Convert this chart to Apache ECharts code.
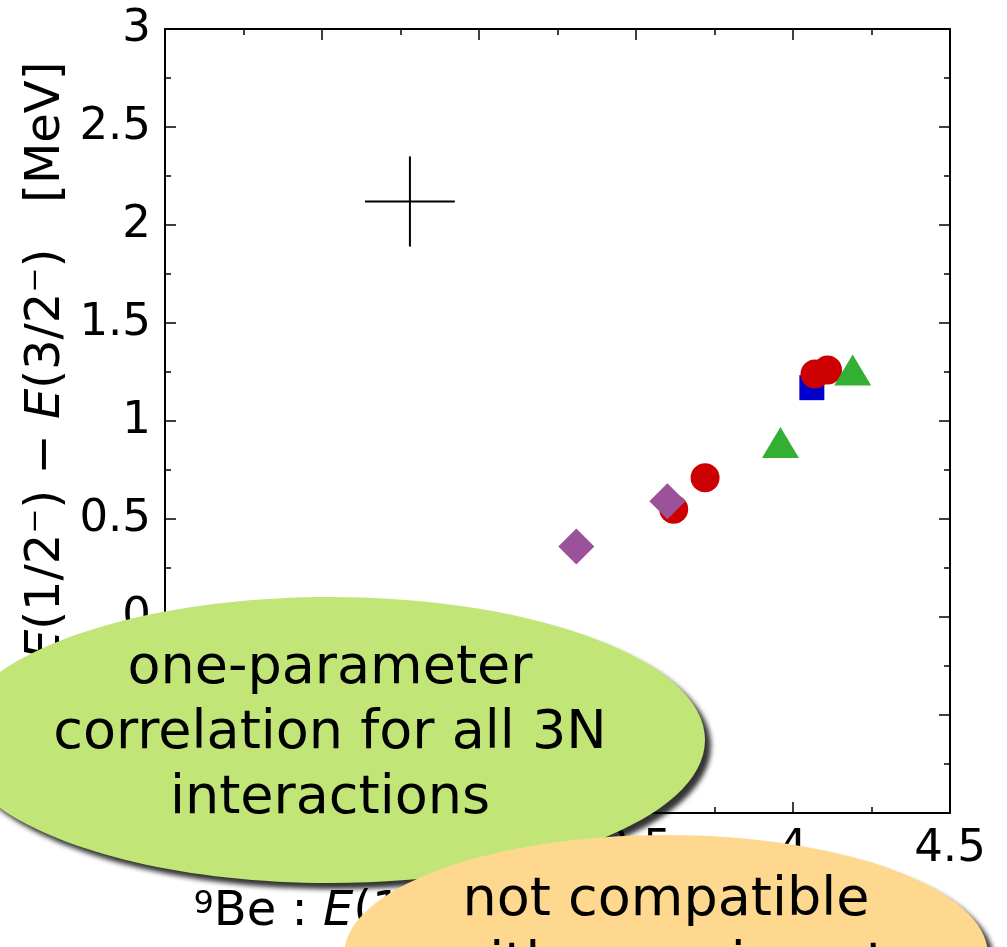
<!DOCTYPE html>
<html>
<head>
<meta charset="utf-8">
<script src="https://cdn.jsdelivr.net/npm/echarts@6/dist/echarts.min.js"></script>
<style>
    html, body { margin: 0; padding: 0; background: #fff; }
    #chart { width: 1007px; height: 947px; }
</style>
</head>
<body>
<div id="chart"></div>
<script>
// 刻度标签
const xTicks = [2, 2.5, 3, 3.5, 4, 4.5];
const yTicks = [-1, -0.5, 0, 0.5, 1, 1.5, 2, 2.5, 3];

// 各种 3N 相互作用的计算结果 [x, y]
const redCircles = [[3.62, 0.55], [3.72, 0.71], [4.07, 1.24], [4.11, 1.26]];
const blueSquares = [[4.06, 1.17]];
const purpleDiamonds = [[3.31, 0.36], [3.60, 0.59]];
const greenTriangles = [[3.96, 0.89], [4.19, 1.26]];
// 实验值 [x, y, x误差, y误差]
const experiment = [[2.78, 2.12, 0.143, 0.23]];

const FONT = '"DejaVu Sans", sans-serif';

(function () {
    const chart = echarts.init(document.getElementById('chart'));

    // 坐标轴公共样式（四边框 + 向内刻度）
    function frameAxis(extra) {
        return Object.assign({
            type: 'value',
            axisLine: { show: true, onZero: false, lineStyle: { color: '#000', width: 2 } },
            axisTick: { show: true, inside: true, length: 11, lineStyle: { color: '#000', width: 1.5 } },
            minorTick: { show: true, splitNumber: 2, length: 6, lineStyle: { color: '#000', width: 1.5 } },
            splitLine: { show: false },
            minorSplitLine: { show: false }
        }, extra);
    }

    const labelStyle = { fontSize: 45, color: '#000', fontFamily: FONT, margin: 14 };
    // 坐标轴名称：斜体 E，上标用小字号顶对齐
    const nameStyle = {
        fontSize: 48, color: '#000', fontFamily: FONT,
        rich: {
            i: { fontSize: 48, color: '#000', fontFamily: FONT, fontStyle: 'italic' },
            sup: { fontSize: 32, color: '#000', fontFamily: FONT, verticalAlign: 'top' }
        }
    };

    const option = {
        animation: false,
        backgroundColor: '#fff',
        grid: { left: 165, right: 57, top: 29, bottom: 134, outerBoundsMode: 'none' },
        xAxis: [
            frameAxis({
                min: xTicks[0], max: xTicks[xTicks.length - 1], interval: 0.5, position: 'bottom',
                axisLabel: Object.assign({ formatter: v => xTicks.includes(v) ? String(v) : '' }, labelStyle),
                name: '{sup|9}Be : {i|E}(1/2⁻) − {i|E}(3/2⁻)   [MeV]',
                nameLocation: 'middle', nameGap: 76, nameMoveOverlap: false, nameTextStyle: nameStyle
            }),
            frameAxis({
                min: xTicks[0], max: xTicks[xTicks.length - 1], interval: 0.5, position: 'top',
                axisLabel: { show: false }
            })
        ],
        yAxis: [
            frameAxis({
                min: yTicks[0], max: yTicks[yTicks.length - 1], interval: 0.5, position: 'left',
                axisLabel: Object.assign({ formatter: v => yTicks.includes(v) ? String(v) : '' }, labelStyle),
                name: '{sup|11}B : {i|E}(1/2⁻) − {i|E}(3/2⁻)   [MeV]',
                nameLocation: 'middle', nameRotate: 90, nameGap: 94, nameMoveOverlap: false, nameTextStyle: nameStyle
            }),
            frameAxis({
                min: yTicks[0], max: yTicks[yTicks.length - 1], interval: 0.5, position: 'right',
                axisLabel: { show: false }
            })
        ],
        series: [
            {
                name: 'exp', type: 'custom', data: experiment, z: 3,
                renderItem: (params, api) => {
                    const x = api.value(0), y = api.value(1), dx = api.value(2), dy = api.value(3);
                    const l = api.coord([x - dx, y]), r = api.coord([x + dx, y]);
                    const t = api.coord([x, y + dy]), b = api.coord([x, y - dy]);
                    const st = { stroke: '#000', lineWidth: 2 };
                    return {
                        type: 'group', children: [
                            { type: 'line', shape: { x1: l[0], y1: l[1], x2: r[0], y2: r[1] }, style: st },
                            { type: 'line', shape: { x1: t[0], y1: t[1], x2: b[0], y2: b[1] }, style: st }
                        ]
                    };
                }
            },
            { type: 'scatter', data: blueSquares, symbol: 'rect', symbolSize: 25, itemStyle: { color: '#0000cc', opacity: 1 }, z: 3 },
            { type: 'scatter', data: redCircles, symbol: 'circle', symbolSize: 29, itemStyle: { color: '#cc0000', opacity: 1 }, z: 4 },
            { type: 'scatter', data: purpleDiamonds, symbol: 'diamond', symbolSize: [36, 36], itemStyle: { color: '#9c529b', opacity: 1 }, z: 5 },
            { type: 'scatter', data: greenTriangles, symbol: 'triangle', symbolSize: [37, 31], itemStyle: { color: '#33b033', opacity: 1 }, z: 5 }
        ],
        // 覆盖在图上的两个说明气泡
        graphic: [
            {
                type: 'ellipse', z: 100,
                shape: { cx: 330, cy: 740, rx: 375, ry: 143 },
                style: { fill: '#c1e577', shadowBlur: 5, shadowOffsetX: 6, shadowOffsetY: 6, shadowColor: 'rgba(0,0,0,0.8)' }
            },
            {
                type: 'text', z: 101, x: 330, y: 734,
                style: {
                    text: 'one-parameter\ncorrelation for all 3N\ninteractions',
                    fontSize: 54, fontFamily: FONT, fill: '#000', lineHeight: 65,
                    align: 'center', verticalAlign: 'middle', textAlign: 'center', textVerticalAlign: 'middle'
                }
            },
            {
                type: 'ellipse', z: 102,
                shape: { cx: 666, cy: 955, rx: 322, ry: 120 },
                style: { fill: '#fed88e', shadowBlur: 5, shadowOffsetX: 6, shadowOffsetY: 6, shadowColor: 'rgba(0,0,0,0.8)' }
            },
            {
                type: 'text', z: 103, x: 666, y: 933,
                style: {
                    text: 'not compatible\nwith experiment',
                    fontSize: 54, fontFamily: FONT, fill: '#000', lineHeight: 65,
                    align: 'center', verticalAlign: 'middle', textAlign: 'center', textVerticalAlign: 'middle'
                }
            }
        ]
    };

    chart.setOption(option);
})();
</script>
</body>
</html>
